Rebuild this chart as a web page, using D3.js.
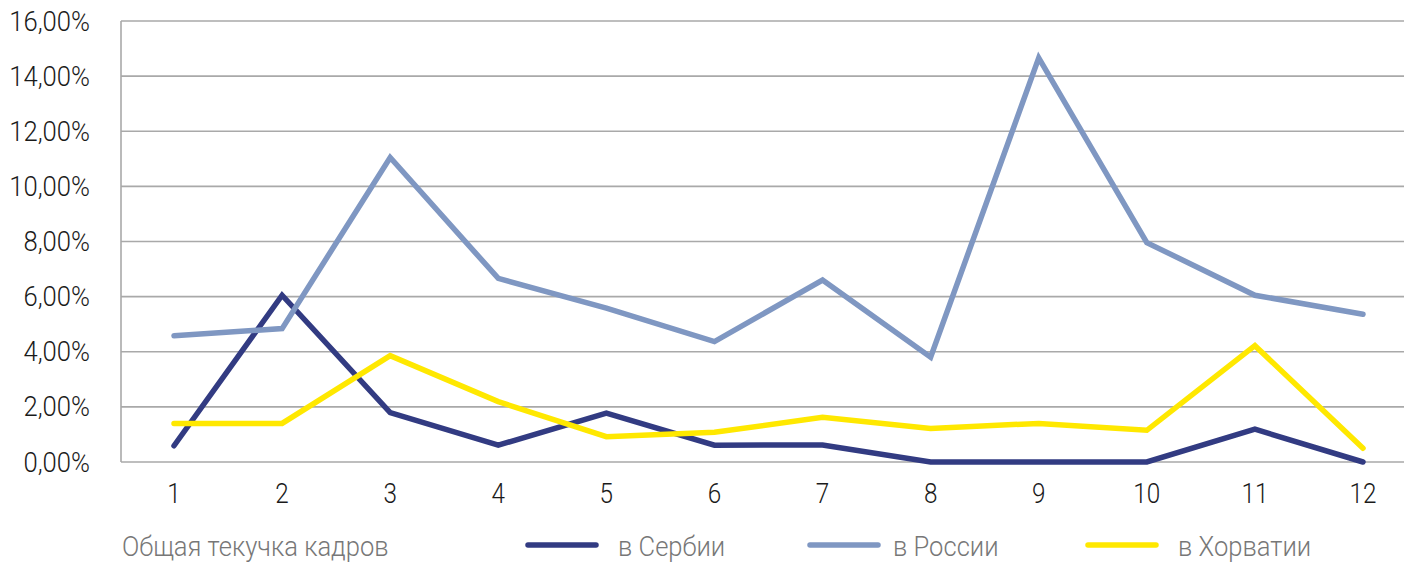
<!DOCTYPE html>
<html><head><meta charset="utf-8">
<script src="https://cdn.jsdelivr.net/npm/d3@7"></script>
<style>
html,body{margin:0;padding:0;background:#fff;}
text{font-family:Roboto,"Noto Sans",sans-serif;font-weight:300;}
</style></head>
<body><svg id="c" width="1404" height="563"></svg>
<script>
const categories = [1,2,3,4,5,6,7,8,9,10,11,12];
const serbia  = [0.59, 6.05, 1.79, 0.61, 1.77, 0.61, 0.62, 0, 0, 0, 1.19, 0];
const russia  = [4.58, 4.84, 11.05, 6.66, 5.58, 4.37, 6.60, 3.80, 14.66, 7.96, 6.05, 5.36];
const croatia = [1.40, 1.40, 3.86, 2.19, 0.92, 1.08, 1.62, 1.22, 1.40, 1.15, 4.22, 0.50];
const yTicks = [0,2,4,6,8,10,12,14,16];
const seriesNames = ["в Сербии","в России","в Хорватии"];
const legendTitle = "Общая текучка кадров";
const colors = ["#323b82","#7f97c2","#ffe800"];

const svg = d3.select("#c");
const x = d3.scaleLinear().domain([1,12]).range([174,1363]);
const y = d3.scaleLinear().domain([0,16]).range([462,21]);
const fmt = v => v.toFixed(2).replace(".",",") + "%";

svg.append("g").selectAll("line").data(yTicks).join("line")
  .attr("x1",121).attr("x2",1404)
  .attr("y1",d=>y(d)).attr("y2",d=>y(d))
  .attr("stroke","#a9a9a9").attr("stroke-width",1.6);
svg.append("line").attr("x1",121).attr("x2",121).attr("y1",y(16)).attr("y2",y(0))
  .attr("stroke","#a9a9a9").attr("stroke-width",1.6);

svg.append("g").selectAll("text").data(yTicks).join("text")
  .attr("transform",d=>`translate(90,${y(d)+9.5}) scale(0.95,1)`)
  .attr("text-anchor","end").attr("font-size",27).attr("fill","#1a1a1a")
  .text(fmt);

svg.append("g").selectAll("text").data(categories).join("text")
  .attr("transform",d=>`translate(${x(d)},503) scale(0.9,1)`)
  .attr("text-anchor","middle").attr("font-size",27).attr("fill","#1a1a1a")
  .text(d=>d);

const line = d3.line().x((d,i)=>x(categories[i])).y(d=>y(d));
[serbia, russia, croatia].forEach((s,k)=>{
  svg.append("path").datum(s).attr("d",line)
    .attr("fill","none").attr("stroke",colors[k]).attr("stroke-width",5.5)
    .attr("stroke-linecap","round").attr("stroke-linejoin","miter");
});

svg.append("text").attr("transform","translate(122,556) scale(0.93,1)")
  .attr("font-size",27.5).attr("fill","#777").text(legendTitle);
const legX = [528, 810, 1088];
const legTX = [618, 893, 1178];
seriesNames.forEach((n,k)=>{
  svg.append("line").attr("x1",legX[k]).attr("x2",legX[k]+68).attr("y1",545).attr("y2",545)
    .attr("stroke",colors[k]).attr("stroke-width",5.5).attr("stroke-linecap","round");
  svg.append("text").attr("transform",`translate(${legTX[k]},556) scale(0.93,1)`)
    .attr("font-size",27.5).attr("fill","#777").text(n);
});
</script></body></html>
